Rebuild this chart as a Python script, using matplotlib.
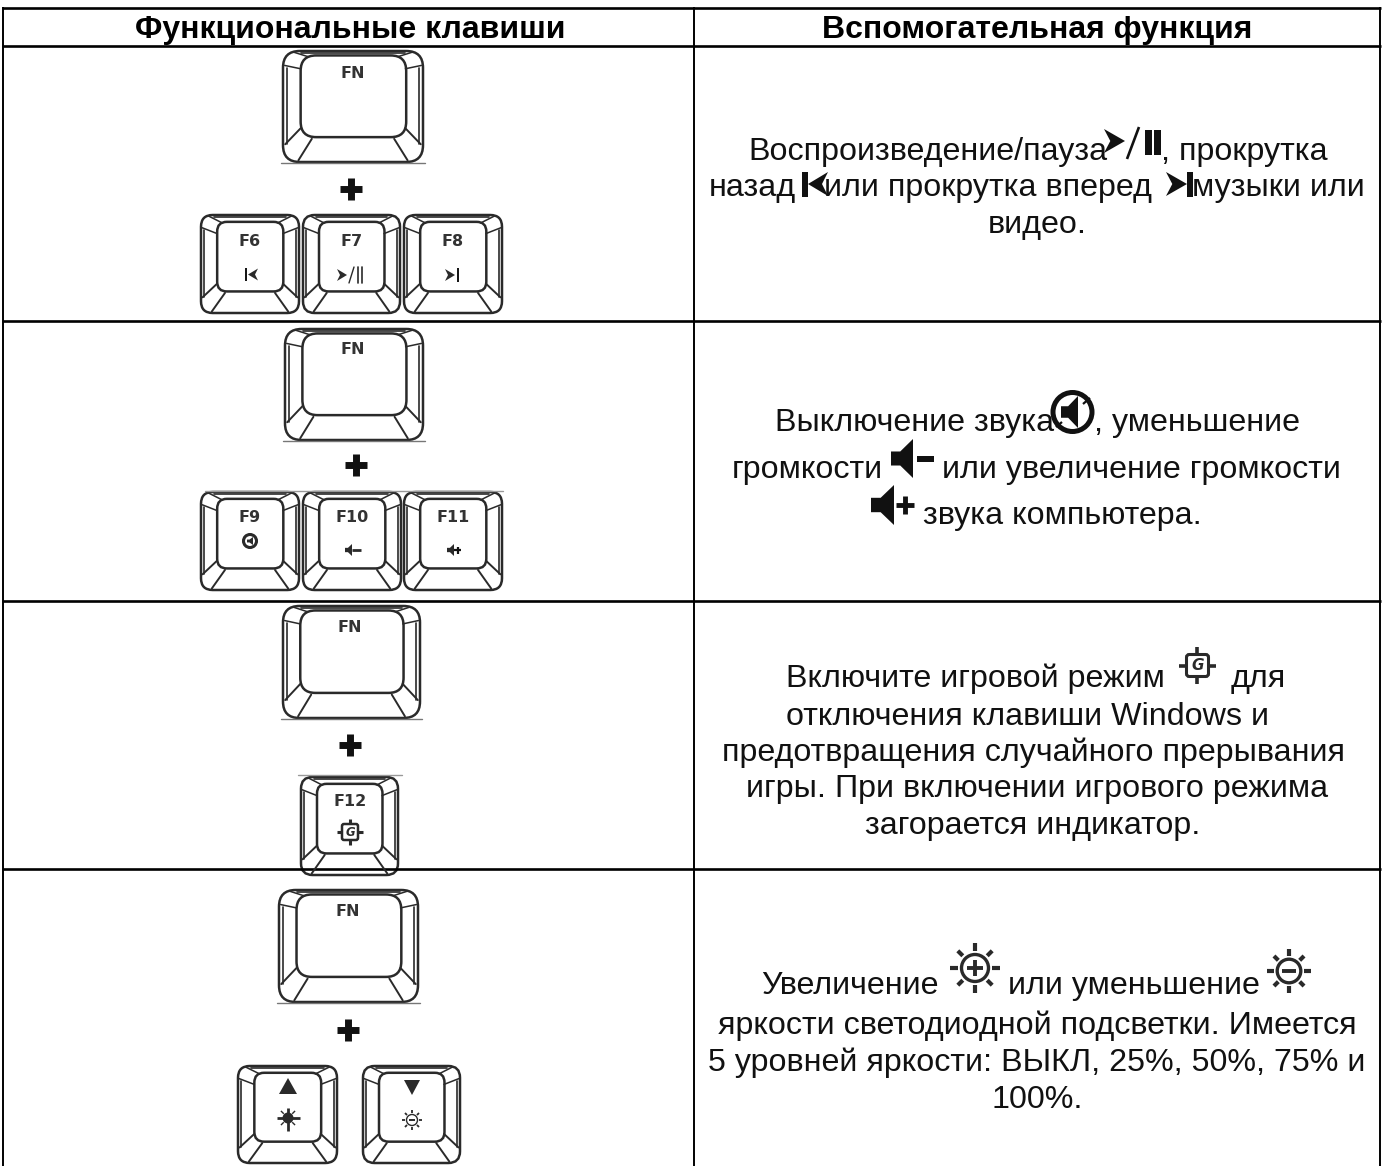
import matplotlib
matplotlib.use("Agg")
import matplotlib.pyplot as plt
from matplotlib.patches import FancyBboxPatch, Polygon, Circle
from matplotlib.lines import Line2D
import numpy as np

# ---------- content ----------
headers = ["Функциональные клавиши", "Вспомогательная функция"]
key_fn = "FN"
keys_media = ["F6", "F7", "F8"]
keys_volume = ["F9", "F10", "F11"]
key_game = "F12"
row1_text = ["Воспроизведение/пауза", ", прокрутка", "назад", "или прокрутка вперед", "музыки или", "видео."]
row2_text = ["Выключение звука", ", уменьшение", "громкости", "или увеличение громкости", "звука компьютера."]
row3_text = ["Включите игровой режим", "для", "отключения клавиши Windows и",
             "предотвращения случайного прерывания",
             "игры. При включении игрового режима", "загорается индикатор."]
row4_text = ["Увеличение", "или уменьшение", "яркости светодиодной подсветки. Имеется",
             "5 уровней яркости: ВЫКЛ, 25%, 50%, 75% и", "100%."]

W, H = 1382, 1166
fig = plt.figure(figsize=(W / 100, H / 100), dpi=100, facecolor="white")
ax = fig.add_axes([0, 0, 1, 1])
ax.set_xlim(0, W)
ax.set_ylim(H, 0)
ax.axis("off")

FONT = "Liberation Sans"
FS = 23.2
INK = "#111111"
KEY = "#2a2a2a"


def line(xs, ys, lw=1.5, c=KEY, **kw):
    ax.add_line(Line2D(xs, ys, lw=lw, color=c, solid_capstyle=kw.pop("cap", "round"), **kw))


def poly(pts, c=INK):
    ax.add_patch(Polygon(pts, closed=True, fc=c, ec="none"))


def rrect(x0, y0, x1, y1, r, lw=1.6, c=KEY):
    ax.add_patch(FancyBboxPatch((x0 + r, y0 + r), x1 - x0 - 2 * r, y1 - y0 - 2 * r,
                                boxstyle=f"round,pad={r},rounding_size={r}",
                                fc="none", ec=c, lw=lw))


def keycap(x0, y0, x1, y1, small=False):
    w, h = x1 - x0, y1 - y0
    X = lambda u: x0 + u * w
    Y = lambda v: y0 + v * h
    ix0, ix1, iy0, iy1 = (.165, .84, .07, .78) if small else (.126, .88, .04, .776)
    rrect(x0, y0, x1, y1, 0.12 * w, lw=1.8)
    rrect(X(ix0), Y(iy0), X(ix1), Y(iy1), 0.11 * (ix1 - ix0) / .75 * w, lw=1.8)
    # second line of the outer wall
    line([X(.03)] * 2, [Y(.15), Y(.84)], lw=1.2)
    line([X(.97)] * 2, [Y(.15), Y(.84)], lw=1.2)
    line([X(.13), X(.87)], [Y(.022), Y(.022)], lw=1.2)
    for m in (False, True):
        f = (lambda u: X(1 - u)) if m else X
        line([f(ix0), f(.012)], [Y(iy0 + .12), Y(.13)], lw=1.1)
        line([f(ix0 + .05), f(.08)], [Y(iy0 + .01), Y(.012)], lw=1.1)
        line([f(ix0), f(.016)], [Y(iy1 - .08), Y(.84)], lw=1.4)
        line([f(ix0 + .08), f(.11)], [Y(iy1 + .015), Y(.985)], lw=1.4)


def keylabel(x, y, s, fs=11.5):
    ax.text(x, y, s, ha="center", va="center", family="DejaVu Sans",
            weight="bold", fontsize=fs, color="#333333")


def plus(x, y, s=11, lw=5.0):
    line([x - s, x + s], [y, y], lw=lw, c=INK, cap="butt")
    line([x, x], [y - s, y + s], lw=lw, c=INK, cap="butt")


def arrow_r(x0, x1, ym, h, c=INK):
    n = x0 + (x1 - x0) * .3
    poly([(x0, ym - h / 2), (x1, ym), (x0, ym + h / 2), (n, ym)], c)


def arrow_l(x0, x1, ym, h, c=INK):
    n = x1 - (x1 - x0) * .3
    poly([(x1, ym - h / 2), (x0, ym), (x1, ym + h / 2), (n, ym)], c)


def speaker(x0, x1, y0, y1, c=INK):
    h = y1 - y0
    ym = (y0 + y1) / 2
    w = x1 - x0
    poly([(x0, ym - .18 * h), (x0 + .42 * w, ym - .18 * h), (x1, y0),
          (x1, y1), (x0 + .42 * w, ym + .18 * h), (x0, ym + .18 * h)], c)


def sun(x, y, r, sign, lw=1.9, c=KEY, ray=None):
    ray = ray if ray is not None else lw + .4
    ax.add_patch(Circle((x, y), r, fc="none", ec=c, lw=lw + .1))
    rays = [(d, 1.24, 1.84) for d in (0, 90, 180, 270)] + [(d, 1.28, 1.8) for d in (45, 135, 225, 315)]
    for a, ra, rb in rays:
        t = np.deg2rad(a)
        line([x + ra * r * np.cos(t), x + rb * r * np.cos(t)],
             [y + ra * r * np.sin(t), y + rb * r * np.sin(t)], lw=ray, c=c, cap="butt")
    line([x - .62 * r, x + .62 * r], [y, y], lw=lw + .5, c=c, cap="butt")
    if sign > 0:
        line([x, x], [y - .62 * r, y + .62 * r], lw=lw + .5, c=c, cap="butt")


def game(x, y, s, lw=1.3, c=KEY, fs=8):
    rrect(x - s, y - s, x + s, y + s, .25 * s, lw=lw, c=c)
    for dx, dy in [(1, 0), (-1, 0), (0, 1), (0, -1)]:
        line([x + dx * s, x + dx * 1.65 * s], [y + dy * s, y + dy * 1.65 * s], lw=lw + .4, c=c, cap="butt")
    ax.text(x, y, "G", ha="center", va="center", family="DejaVu Sans", style="italic",
            weight="bold", fontsize=fs, color=c)


def body(x, y, s, ha="left"):
    ax.text(x, y, s, ha=ha, va="baseline", family=FONT, fontsize=FS, color=INK)


# ---------- table rules ----------
for y in (8, 46, 321, 601, 869):
    line([2, 1381], [y, y], lw=1.9, c="black", cap="butt")
for x in (3, 694, 1380):
    line([x, x], [7, H], lw=1.4, c="black", cap="butt")

# ---------- headers ----------
ax.text(350, 38, headers[0], ha="center", va="baseline", family=FONT, weight="bold", fontsize=23, color="black")
ax.text(1037, 38, headers[1], ha="center", va="baseline", family=FONT, weight="bold", fontsize=23, color="black")

# ---------- row 1 keys ----------
keycap(283, 51, 423, 162)
line([281, 425], [163, 163], lw=1, c="#777777")
keylabel(353, 73, key_fn)
plus(351, 189)
for (a, b), lab in zip([(201, 299), (303, 400), (404, 502)], keys_media):
    keycap(a, 215, b, 313, small=True)
    keylabel((a + b) / 2, 241, lab)
line([246, 246], [268, 281], lw=1.4, c=INK, cap="butt")
arrow_l(248, 258, 274.5, 12, KEY)
arrow_r(337, 347, 275, 12, KEY)
line([354, 349], [267, 283], lw=1.0, c=KEY)
line([358, 358], [267, 283], lw=1.2, c=KEY)
line([362, 362], [267, 283], lw=1.2, c=KEY)
arrow_r(445, 455, 275, 12, KEY)
line([458, 458], [268, 282], lw=1.4, c=INK, cap="butt")

# ---------- row 1 text ----------
body(748, 160, row1_text[0])
arrow_r(1104, 1125, 141, 24)
line([1139, 1127], [127, 159], lw=1.9, c=INK, cap="butt")
poly([(1145, 130), (1152, 130), (1152, 155), (1145, 155)])
poly([(1154, 130), (1161, 130), (1161, 155), (1154, 155)])
body(1161, 160, row1_text[1])
body(709, 196, row1_text[2])
poly([(802, 172), (808, 172), (808, 197), (802, 197)])
arrow_l(808, 828, 184, 24)
body(824, 196, row1_text[3])
arrow_r(1166, 1187, 184, 24)
poly([(1187, 172), (1193, 172), (1193, 197), (1187, 197)])
body(1192, 196, row1_text[4])
body(1037, 233, row1_text[5], ha="center")

# ---------- row 2 keys ----------
keycap(285, 329, 423, 440)
line([283, 425], [441, 441], lw=1, c="#777777")
keylabel(353, 349, key_fn)
plus(356, 465)
line([205, 503], [491, 491], lw=1, c="#999999")
for (a, b), lab in zip([(201, 299), (303, 401), (404, 502)], keys_volume):
    keycap(a, 492, b, 590, small=True)
    keylabel((a + b) / 2, 518, lab)
ax.add_patch(Circle((250, 541), 6.5, fc="none", ec=KEY, lw=2.2))
speaker(247, 253, 537, 545, KEY)
speaker(345, 352, 544, 556, KEY)
line([352, 361], [550, 550], lw=2, c=KEY, cap="butt")
speaker(447, 454, 544, 556, KEY)
plus(458, 550, s=3.5, lw=1.6)

# ---------- row 2 text ----------
body(775, 431, row2_text[0])
ax.add_patch(Circle((1072.5, 412), 19.5, fc="white", ec=INK, lw=3.6))
speaker(1061, 1078, 396, 428)
line([1056, 1062], [427, 422], lw=1.6, c=INK, cap="butt")
line([1083, 1090], [404, 398], lw=1.6, c=INK, cap="butt")
body(1094, 431, row2_text[1])
body(732, 478, row2_text[2])
speaker(891, 913, 439, 478)
poly([(917, 456), (934, 456), (934, 462), (917, 462)])
body(942, 478, row2_text[3])
speaker(871, 894, 485, 525)
plus(905, 505, s=9, lw=3.5)
body(923, 524, row2_text[4])

# ---------- row 3 keys ----------
keycap(283, 606, 420, 718)
line([281, 422], [719, 719], lw=1, c="#777777")
keylabel(350, 628, key_fn)
plus(350, 745)
line([298, 402], [775, 775], lw=1, c="#999999")
keycap(301, 777, 398, 875, small=True)
keylabel(350, 801, key_game)
game(350, 832, 8, lw=1.8, fs=8.5)

# ---------- row 3 text ----------
body(786, 687, row3_text[0])
game(1197.5, 665.5, 11, lw=2.2, fs=11)
body(1231, 687, row3_text[1])
body(1028, 725, row3_text[2], ha="center")
body(1034, 761, row3_text[3], ha="center")
body(1037, 797, row3_text[4], ha="center")
body(1033, 834, row3_text[5], ha="center")

# ---------- row 4 keys ----------
keycap(279, 890, 418, 1002)
line([277, 420], [1003, 1003], lw=1, c="#777777")
keylabel(348, 912, key_fn)
plus(348, 1030)
keycap(238, 1066, 337, 1163, small=True)
keycap(363, 1066, 460, 1163, small=True)
poly([(288, 1078), (297, 1094), (279, 1094)], KEY)
poly([(404, 1080), (420, 1080), (412, 1095)], KEY)
line([277, 300], [1118, 1118], lw=2.0, cap="butt")
line([288, 288], [1108, 1131], lw=2.0, cap="butt")
ax.add_patch(Circle((288, 1118), 5.5, fc=KEY, ec="none"))
for t in np.deg2rad([45, 135, 225, 315]):
    line([288 + 6 * np.cos(t), 288 + 10 * np.cos(t)], [1118 + 6 * np.sin(t), 1118 + 10 * np.sin(t)], lw=1, cap="butt")
sun(412, 1120, 5.5, -1, lw=.9)

# ---------- row 4 text ----------
body(761, 994, row4_text[0])
sun(975, 968, 13.5, 1, lw=2.3, ray=3.0)
body(1008, 994, row4_text[1])
sun(1289, 971, 11.8, -1, lw=2.3, ray=3.0)
body(1037, 1034, row4_text[2], ha="center")
body(1037, 1071, row4_text[3], ha="center")
body(1037, 1108, row4_text[4], ha="center")

fig.savefig("out.png", dpi=100, facecolor="white")
